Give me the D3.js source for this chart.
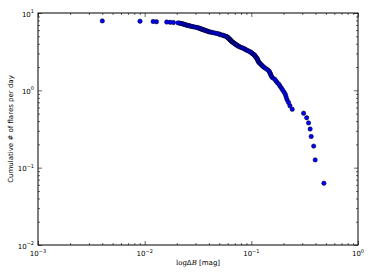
<!DOCTYPE html>
<html><head><meta charset="utf-8">
<script src="https://cdn.jsdelivr.net/npm/d3@7/dist/d3.min.js"></script>
<style>body{margin:0;background:#fff}svg{display:block}</style>
</head><body><svg id="c" width="374" height="280"></svg>
<script>
// flare amplitudes (log ΔB [mag]) sorted from largest to smallest
const deltaB = [0.479,0.397,0.384,0.364,0.356,0.344,0.330,0.309,0.2417,0.2300,
0.2232,0.2161,0.2119,0.2084,0.2030,0.1965,0.1911,0.1854,0.1810,0.1745,
0.1700,0.1657,0.1580,0.1543,0.1526,0.1507,0.1487,0.1468,0.1431,0.1382,
0.1332,0.1293,0.1265,0.1238,0.1212,0.1189,0.1165,0.1158,0.1148,0.1141,
0.1131,0.1109,0.1097,0.1085,0.1072,0.1053,0.1028,0.1011,0.0992,0.0970,
0.0941,0.0913,0.0890,0.0869,0.0847,0.0823,0.0797,0.0774,0.0757,0.0741,
0.0728,0.0716,0.0704,0.0694,0.0684,0.0672,0.0659,0.0654,0.0647,0.0641,
0.0634,0.0629,0.0623,0.0615,0.0609,0.0602,0.0597,0.0591,0.0577,0.0562,
0.0545,0.0537,0.0514,0.0504,0.0493,0.0475,0.0457,0.0439,0.0424,0.0406,
0.0399,0.0390,0.0380,0.0372,0.0363,0.0356,0.0348,0.0341,0.0334,0.0330,
0.0323,0.0315,0.0307,0.0296,0.0286,0.0278,0.0269,0.0263,0.0255,0.0249,
0.0244,0.0239,0.0234,0.0229,0.0224,0.0219,0.0212,0.0205,0.0186,0.0173,
0.0161,0.0129,0.0120,0.00904,0.00401];
// cumulative number of flares per day
const ratePerDay = [0.063,0.126,0.190,0.253,0.316,0.379,0.442,0.506,0.569,0.632,
0.695,0.758,0.822,0.885,0.948,1.011,1.074,1.138,1.201,1.264,
1.327,1.390,1.454,1.517,1.580,1.643,1.706,1.770,1.833,1.896,
1.959,2.022,2.086,2.149,2.212,2.275,2.338,2.402,2.465,2.528,
2.591,2.654,2.718,2.781,2.844,2.907,2.970,3.034,3.097,3.160,
3.223,3.286,3.350,3.413,3.476,3.539,3.602,3.666,3.729,3.792,
3.855,3.918,3.982,4.045,4.108,4.171,4.234,4.298,4.361,4.424,
4.487,4.550,4.614,4.677,4.740,4.803,4.866,4.930,4.993,5.056,
5.119,5.182,5.246,5.309,5.372,5.435,5.498,5.562,5.625,5.688,
5.751,5.814,5.878,5.941,6.004,6.067,6.130,6.194,6.257,6.320,
6.383,6.446,6.510,6.573,6.636,6.699,6.762,6.826,6.889,6.952,
7.015,7.078,7.142,7.205,7.268,7.331,7.394,7.458,7.521,7.584,
7.647,7.710,7.774,7.837,7.900];
const xTickValues = [1e-3,1e-2,1e-1,1];
const xTickExps = ["\u22123","\u22122","\u22121","0"];
const yTickValues = [1e-2,1e-1,1,10];
const yTickExps = ["\u22122","\u22121","0","1"];
const xLabel = ["log", "\u0394", "B", " [mag]"];
const yLabel = "Cumulative # of flares per day";

const svg = d3.select("#c");
const L = 38, R = 358, T = 13, B = 245;
const x = d3.scaleLog().domain([1e-3, 1]).range([L, R]);
const y = d3.scaleLog().domain([1e-2, 10]).range([B, T]);

function minors(lo, hi) {
  const out = [];
  for (let e = lo; e < hi; e++) for (let m = 2; m <= 9; m++) out.push(m * Math.pow(10, e));
  return out;
}
const xMinor = minors(-3, 0), yMinor = minors(-2, 1);

const tickCol = "#000";
function drawAxis(axisGen, scale, vals, size, tx, ty) {
  const g = svg.append("g").attr("transform", `translate(${tx},${ty})`)
    .call(axisGen(scale).tickValues(vals).tickSizeInner(-size).tickSizeOuter(0).tickFormat(""));
  g.select(".domain").remove();
  g.selectAll("line").attr("stroke", tickCol).attr("stroke-width", 0.6);
}
drawAxis(d3.axisBottom, x, xTickValues, 4, 0, B);
drawAxis(d3.axisBottom, x, xMinor, 2, 0, B);
drawAxis(d3.axisTop, x, xTickValues, 4, 0, T);
drawAxis(d3.axisTop, x, xMinor, 2, 0, T);
drawAxis(d3.axisLeft, y, yTickValues, 4, L, 0);
drawAxis(d3.axisLeft, y, yMinor, 2, L, 0);
drawAxis(d3.axisRight, y, yTickValues, 4, R, 0);
drawAxis(d3.axisRight, y, yMinor, 2, R, 0);

svg.append("rect").attr("x", L).attr("y", T).attr("width", R - L).attr("height", B - T)
  .attr("fill", "none").attr("stroke", "#000").attr("stroke-width", 1);

const pts = deltaB.map((d, i) => ({x: d, y: ratePerDay[i]}));
svg.append("g").selectAll("circle").data(pts).join("circle")
  .attr("cx", d => x(d.x)).attr("cy", d => y(d.y)).attr("r", 2.2)
  .attr("fill", "#0000ff").attr("stroke", "#000").attr("stroke-width", 0.5);

const font = "DejaVu Sans, sans-serif";
xTickValues.forEach((v, i) => {
  const t = svg.append("text").attr("x", x(v)).attr("y", 256).attr("text-anchor", "middle")
    .attr("font-family", font).attr("font-size", 7).attr("fill", "#000");
  t.append("tspan").text("10");
  t.append("tspan").attr("dy", -3.5).attr("font-size", 5).text(xTickExps[i]);
});
yTickValues.forEach((v, i) => {
  const t = svg.append("text").attr("x", 34).attr("y", y(v) + 3.5).attr("text-anchor", "end")
    .attr("font-family", font).attr("font-size", 7).attr("fill", "#000");
  t.append("tspan").text("10");
  t.append("tspan").attr("dy", -3.5).attr("font-size", 5).text(yTickExps[i]);
});
const xl = svg.append("text").attr("x", (L + R) / 2).attr("y", 265).attr("text-anchor", "middle")
  .attr("font-size", 7).attr("fill", "#000");
xl.append("tspan").attr("font-family", "DejaVu Serif, serif").text(xLabel[0]);
xl.append("tspan").attr("font-family", font).text(xLabel[1]);
xl.append("tspan").attr("font-family", "DejaVu Serif, serif").attr("font-style", "italic").text(xLabel[2]);
xl.append("tspan").attr("font-family", font).text(xLabel[3]);
svg.append("text").attr("transform", `translate(13,${(T + B) / 2}) rotate(-90)`)
  .attr("text-anchor", "middle").attr("font-family", font).attr("font-size", 7)
  .attr("fill", "#000").text(yLabel);
</script></body></html>
